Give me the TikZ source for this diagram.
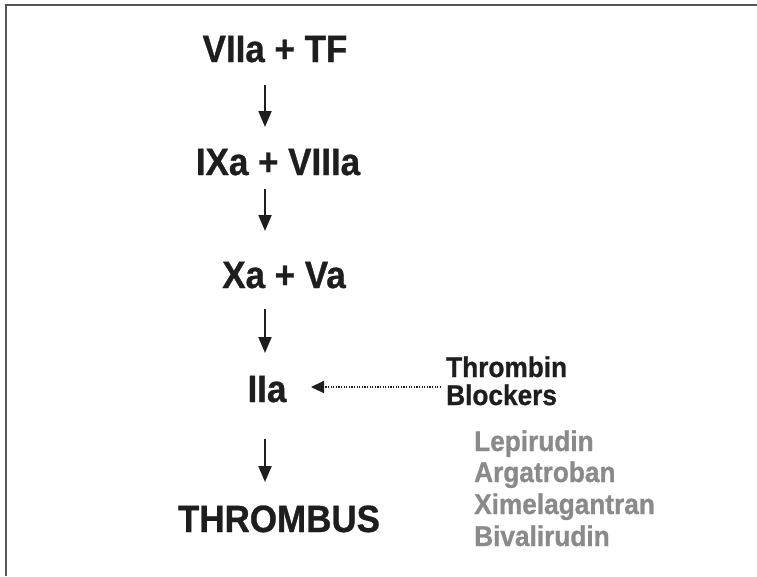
\documentclass[tikz,border=0pt]{standalone}
\usepackage{fontspec}
\setmainfont{Liberation Sans}[FakeStretch=0.92,BoldFeatures={FakeBold=0.8}]
\usetikzlibrary{arrows.meta}
\definecolor{ink}{HTML}{1E1E1E}
\definecolor{drug}{HTML}{8A8A8A}
\definecolor{frame}{HTML}{555555}
\begin{document}
\begin{tikzpicture}[x=1pt,y=-1pt,
  stage/.style={anchor=base,text=ink,font=\fontsize{38}{40}\selectfont\bfseries,inner sep=0pt},
  blocker/.style={anchor=base west,text=ink,font=\fontsize{28.5}{30}\selectfont\bfseries,inner sep=0pt},
  druglabel/.style={anchor=base west,text=drug,font=\fontsize{28.5}{30}\selectfont\bfseries,inner sep=0pt},
  flow/.style={draw=ink,line width=2pt,-{Triangle[length=16pt,width=13pt]}},
  inhibit/.style={draw=ink,line width=2.2pt,dash pattern=on 1.3pt off 1.3pt,
    -{Triangle[length=13pt,width=12pt,sep=0pt]}}]
  \useasboundingbox (0,0) rectangle (757,576);
  \fill[white] (0,0) rectangle (757,576);
  % frame: top and left edges only
  \draw[frame,line width=2.2pt] (6,576) -- (6,5) -- (757,5);

  % cascade
  \node[stage] (vii)  at (275,62)  {VIIa + TF};
  \node[stage] (ix)   at (278,175) {IXa + VIIIa};
  \node[stage] (xa)   at (284,288) {Xa + Va};
  \node[stage] (ii)   at (267,402) {IIa};
  \node[stage] (thr)  at (279,532) {THROMBUS};

  % arrow end points
  \coordinate (a1s) at (265,85);  \coordinate (a1e) at (265,127);
  \coordinate (a2s) at (265,189); \coordinate (a2e) at (265,231);
  \coordinate (a3s) at (265,309); \coordinate (a3e) at (265,353);
  \coordinate (a4s) at (265,439); \coordinate (a4e) at (265,482);
  \draw[flow] (a1s) -- (a1e);
  \draw[flow] (a2s) -- (a2e);
  \draw[flow] (a3s) -- (a3e);
  \draw[flow] (a4s) -- (a4e);

  % thrombin blockers
  \node[blocker] (tb1) at (446,377) {Thrombin};
  \node[blocker] (tb2) at (446,405) {Blockers};
  \coordinate (dotstart) at (441,387);
  \coordinate (dotend) at (311,387);
  \draw[inhibit] (dotstart) -- (dotend);
  \node[druglabel] (d1) at (474,451) {Lepirudin};
  \node[druglabel] (d2) at (474,482) {Argatroban};
  \node[druglabel] (d3) at (474,514) {Ximelagantran};
  \node[druglabel] (d4) at (474,546) {Bivalirudin};
\end{tikzpicture}
\end{document}
